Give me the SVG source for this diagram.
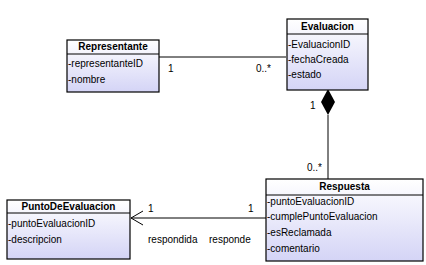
<svg xmlns="http://www.w3.org/2000/svg" width="426" height="265" viewBox="0 0 426 265">
  <defs>
    <linearGradient id="cls" x1="0" y1="0" x2="0" y2="1">
      <stop offset="0" stop-color="#ffffff"/>
      <stop offset="1" stop-color="#d4d4f6"/>
    </linearGradient>
    <!-- open navigability arrow -->
    <marker id="open" markerWidth="16" markerHeight="16" refX="13" refY="8" orient="auto" markerUnits="userSpaceOnUse" overflow="visible">
      <path d="M1,1 L13,8 L1,15" fill="none" stroke="#000" stroke-width="1"/>
    </marker>
  </defs>
  <style>
    .box { fill: url(#cls); stroke: #000; stroke-width: 1.2; }
    .sep { stroke: #000; stroke-width: 1; }
    .title { font-family: "Liberation Sans", Arial, sans-serif; font-size: 10px; font-weight: bold; text-anchor: middle; fill: #000; }
    .attr { font-family: "Liberation Sans", Arial, sans-serif; font-size: 10px; fill: #000; }
    .lbl { font-family: "Liberation Sans", Arial, sans-serif; font-size: 10px; fill: #000; }
    .edge { stroke: #000; stroke-width: 1; fill: none; }
  </style>
  <rect width="426" height="265" fill="#fff"/>

  <g id="connectors">
    <line class="edge" x1="159" y1="57" x2="286" y2="57"/>
    <text class="lbl" x="168" y="72">1</text>
    <text class="lbl" x="256" y="72">0..*</text>

    <line class="edge" x1="328" y1="115" x2="328" y2="179"/>
    <path d="M328,89 L335,102 L328,115 L321,102 Z" fill="#000"/>
    <text class="lbl" x="310" y="109">1</text>
    <text class="lbl" x="307" y="171">0..*</text>

    <line class="edge" x1="266" y1="218" x2="131" y2="218" marker-end="url(#open)"/>
    <text class="lbl" x="148" y="212">1</text>
    <text class="lbl" x="248" y="212">1</text>
    <text class="lbl" x="148" y="243">respondida</text>
    <text class="lbl" x="209" y="243">responde</text>
  </g>

  <g id="Representante">
    <rect class="box" x="67" y="40" width="92" height="52"/>
    <line class="sep" x1="67" y1="54" x2="159" y2="54"/>
    <text class="title" x="113" y="50">Representante</text>
    <text class="attr" x="68" y="67">-representanteID</text>
    <text class="attr" x="68" y="83">-nombre</text>
  </g>

  <g id="Evaluacion">
    <rect class="box" x="287" y="19" width="81" height="71"/>
    <line class="sep" x1="287" y1="34" x2="368" y2="34"/>
    <text class="title" x="327.5" y="30">Evaluacion</text>
    <text class="attr" x="288" y="48">-EvaluacionID</text>
    <text class="attr" x="288" y="63">-fechaCreada</text>
    <text class="attr" x="288" y="78">-estado</text>
  </g>

  <g id="Respuesta">
    <rect class="box" x="266" y="179" width="157" height="82"/>
    <line class="sep" x1="266" y1="195" x2="423" y2="195"/>
    <text class="title" x="344.5" y="190">Respuesta</text>
    <text class="attr" x="267" y="205">-puntoEvaluacionID</text>
    <text class="attr" x="267" y="220">-cumplePuntoEvaluacion</text>
    <text class="attr" x="267" y="236">-esReclamada</text>
    <text class="attr" x="267" y="252">-comentario</text>
  </g>

  <g id="PuntoDeEvaluacion">
    <rect class="box" x="7" y="200" width="123" height="59"/>
    <line class="sep" x1="7" y1="213" x2="130" y2="213"/>
    <text class="title" x="68.5" y="210">PuntoDeEvaluacion</text>
    <text class="attr" x="8" y="227">-puntoEvaluacionID</text>
    <text class="attr" x="8" y="243">-descripcion</text>
  </g>
</svg>
